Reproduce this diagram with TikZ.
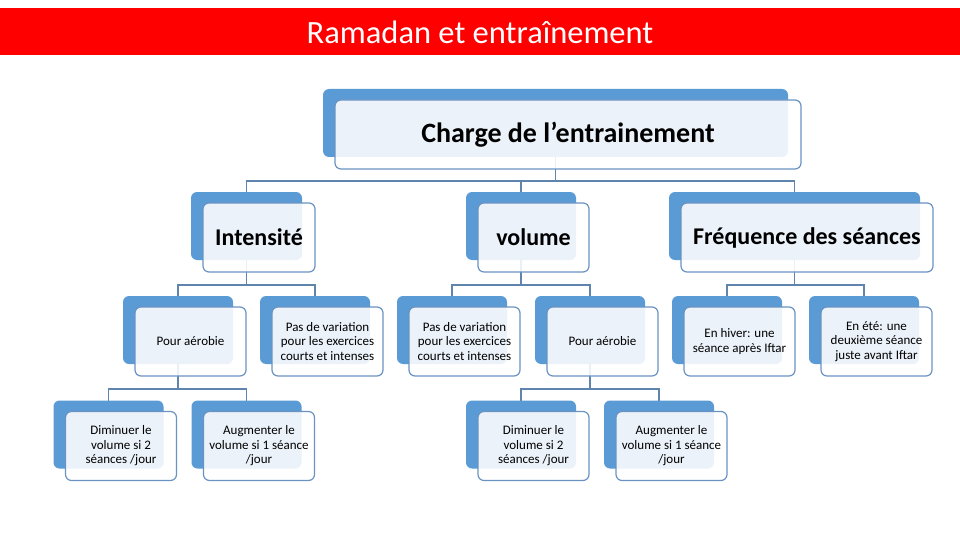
\documentclass[tikz,border=0pt]{standalone}
\usepackage{fontspec}
\setmainfont{Carlito}
\usetikzlibrary{calc}
\definecolor{bk}{HTML}{5B9BD5}
\definecolor{fr}{HTML}{6A93C2}
\definecolor{cn}{HTML}{5F84AD}
\definecolor{rd}{HTML}{FF0000}
\pgfdeclarelayer{bg}
\pgfdeclarelayer{paper}
\pgfsetlayers{paper,bg,main}
\newcommand\mkbox[7]{%
  \node[backbox, minimum width=#4pt, minimum height=#5pt] (#1b) at (#2,#3) {};
  \node[frontbox, #6, minimum width=#4pt+1pt, minimum height=#5pt+1pt] (#1) at ({#2+12.5},{#3+11.5}) {#7};
}
\begin{document}
\begin{tikzpicture}[x=1pt,y=-1pt,
  backbox/.style={fill=bk, rounded corners=6pt, inner sep=0pt, outer sep=0pt},
  frontbox/.style={draw=fr, line width=1.2pt, fill=white, fill opacity=0.88, text opacity=1, rounded corners=6pt, inner sep=2pt, align=center, text=black},
  conn/.style={draw=cn, line width=1.6pt},
  small/.style={font=\fontsize{13}{14.5}\selectfont},
  big/.style={font=\fontsize{24}{28}\selectfont\bfseries},
  huge/.style={font=\fontsize{28}{31}\selectfont\bfseries}]
\useasboundingbox (0,0) rectangle (960,540);
\begin{pgfonlayer}{paper}
\fill[white] (0,0) rectangle (960,540);
\end{pgfonlayer}
\fill[rd] (0,8) rectangle (960,55);
\node[text=white, font=\fontsize{32.5}{36}\selectfont] (title) at (480,32.5) {Ramadan et entraînement};
% level 1
\mkbox{top}{555.5}{123}{465}{68}{huge}{Charge de l’entrainement}
% level 2
\mkbox{int}{246.5}{226}{111}{68}{big}{Intensité}
\mkbox{vol}{521}{226}{110}{68}{big}{volume}
\mkbox{fre}{794.5}{226}{251}{68}{big}{Fréquence des séances}
% level 3
\mkbox{iaer}{178}{330}{110}{68}{small}{Pour aérobie}
\mkbox{ipas}{315}{330}{110}{68}{small}{Pas de variation\\pour les exercices\\courts et intenses}
\mkbox{vpas}{452}{330}{110}{68}{small}{Pas de variation\\pour les exercices\\courts et intenses}
\mkbox{vaer}{590}{330}{110}{68}{small}{Pour aérobie}
\mkbox{hiv}{727}{330}{110}{68}{small}{En hiver: une\\séance après Iftar}
\mkbox{ete}{864}{330}{110}{68}{small}{En été: une\\deuxième séance\\juste avant Iftar}
% level 4
\mkbox{idim}{108.5}{434.5}{110}{68}{small}{Diminuer le\\volume si 2\\séances /jour}
\mkbox{iaug}{246.5}{434.5}{110}{68}{small}{Augmenter le\\volume si 1 séance\\/jour}
\mkbox{vdim}{521}{434.5}{110}{68}{small}{Diminuer le\\volume si 2\\séances /jour}
\mkbox{vaug}{659}{434.5}{110}{68}{small}{Augmenter le\\volume si 1 séance\\/jour}
\begin{pgfonlayer}{bg}
  \foreach \c in {intb,volb,freb} \draw[conn] (topb.south) -- ++(0,24) -| (\c.north);
  \foreach \c in {iaerb,ipasb} \draw[conn] (intb.south) -- ++(0,25) -| (\c.north);
  \foreach \c in {vpasb,vaerb} \draw[conn] (volb.south) -- ++(0,25) -| (\c.north);
  \foreach \c in {hivb,eteb} \draw[conn] (freb.south) -- ++(0,25) -| (\c.north);
  \foreach \c in {idimb,iaugb} \draw[conn] (iaerb.south) -- ++(0,25) -| (\c.north);
  \foreach \c in {vdimb,vaugb} \draw[conn] (vaerb.south) -- ++(0,25) -| (\c.north);
\end{pgfonlayer}
\end{tikzpicture}
\end{document}
